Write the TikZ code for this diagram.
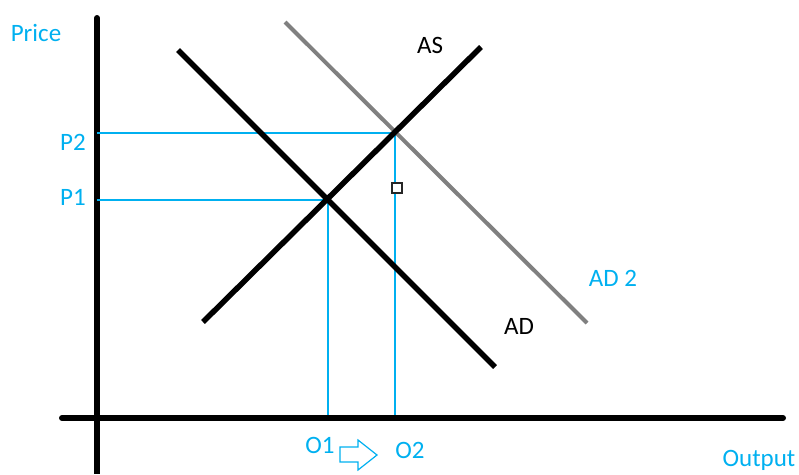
\documentclass[tikz,border=0pt]{standalone}
\usepackage{fontspec}
\setmainfont{Carlito}
\definecolor{lblue}{RGB}{0,176,240}
\definecolor{lgray}{RGB}{128,128,128}
\begin{document}
\begin{tikzpicture}[x=1pt,y=-1pt,
  axisline/.style={line width=6pt,black},
  curve/.style={line width=5.5pt,black},
  curve2/.style={line width=4pt,lgray},
  guide/.style={line width=1.2pt,lblue},
  lbl/.style={font=\fontsize{25}{28}\selectfont,inner sep=0pt},
  blbl/.style={lbl,text=lblue}]
\useasboundingbox (0,0) rectangle (799,474);
\coordinate (ytop) at (97,18);
\coordinate (ybot) at (97,474);
\coordinate (xl) at (62,418);
\coordinate (xr) at (783,418);
\draw[axisline,line cap=round] (ytop) -- (97,470);
\draw[axisline] (97,470) -- (ybot);
\draw[axisline,line cap=round] (xl) -- (xr);
% guides
\coordinate (e1) at (328,200);
\coordinate (e2) at (395,133);
\coordinate (p1a) at (97,200);
\coordinate (p2a) at (97,133);
\coordinate (o1a) at (328,415);
\coordinate (o2a) at (395,415);
\draw[guide] (p2a) -- (e2) -- (o2a);
\draw[guide] (p1a) -- (e1) -- (o1a);
% curves
\coordinate (ad1) at (178,50);
\coordinate (ad2) at (495,367);
\coordinate (as1) at (203,322);
\coordinate (as2) at (481,47);
\coordinate (adb1) at (285,22);
\coordinate (adb2) at (587,323);
\draw[curve2] (adb1) -- (adb2);
\draw[curve] (ad1) -- (ad2);
\draw[curve] (as1) -- (as2);
% small square
\node[draw=black!85,line width=1.4pt,minimum size=10pt,inner sep=0pt,fill=white] (sq) at (397,188) {};
% labels
\node[blbl] (price) at (36,33) {Price};
\node[blbl] (p2) at (73,142) {P2};
\node[blbl] (p1) at (73,197) {P1};
\node[lbl] (as) at (430,45) {AS};
\node[lbl] (ad) at (519,326) {AD};
\node[blbl] (adtwo) at (613,278) {AD 2};
\node[blbl] (o1) at (320,445) {O1};
\node[blbl] (o2) at (410,450) {O2};
\node[blbl] (out) at (759,460) {Output};
% block arrow
\draw[lblue,line width=1.2pt,line join=miter]
  (340,447) -- (358,447) -- (358,440) -- (377,455) -- (358,470) -- (358,462) -- (340,462) -- cycle;
\end{tikzpicture}
\end{document}
